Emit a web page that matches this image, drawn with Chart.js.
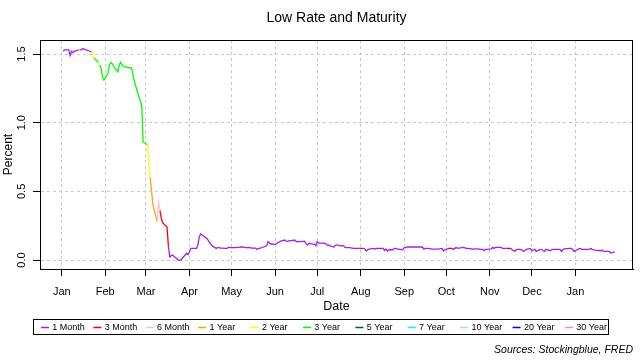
<!DOCTYPE html>
<html>
<head>
<meta charset="utf-8">
<script src="https://cdn.jsdelivr.net/npm/chart.js@4.4.1/dist/chart.umd.min.js"></script>
<style>
  html, body { margin: 0; padding: 0; background: #fff; }
  #wrap { width: 640px; height: 360px; }
</style>
</head>
<body>
<div id="wrap"><canvas id="rateChart" width="640" height="360"></canvas></div>
<script>
// maturities shown in the legend, and their line colours
var maturities = ['1 Month', '3 Month', '6 Month', '1 Year', '2 Year', '3 Year', '5 Year', '7 Year', '10 Year', '20 Year', '30 Year'];
var maturityColors = ['#A020F0', '#FF0000', '#FFC0CB', '#FFA500', '#FFFF00', '#00FF00', '#006400', '#00FFFF', '#ADD8E6', '#0000FF', '#EE82EE'];

// x axis month ticks
var tickDates = ['2020-01-01', '2020-02-01', '2020-03-01', '2020-04-01', '2020-05-01', '2020-06-01', '2020-07-01', '2020-08-01', '2020-09-01', '2020-10-01', '2020-11-01', '2020-12-01', '2021-01-01'];
var tickLabels = ['Jan', 'Feb', 'Mar', 'Apr', 'May', 'Jun', 'Jul', 'Aug', 'Sep', 'Oct', 'Nov', 'Dec', 'Jan'];
var yTicks = [0, 0.5, 1.0, 1.5];

// lowest treasury rate of each day and which maturity it was (index into maturities)
var dates = [
  '2020-01-02','2020-01-03','2020-01-06','2020-01-07','2020-01-08','2020-01-09','2020-01-10','2020-01-13','2020-01-14','2020-01-15',
  '2020-01-16','2020-01-17','2020-01-21','2020-01-22','2020-01-23','2020-01-24','2020-01-27','2020-01-28','2020-01-29','2020-01-30',
  '2020-01-31','2020-02-03','2020-02-04','2020-02-05','2020-02-06','2020-02-07','2020-02-10','2020-02-11','2020-02-12','2020-02-13',
  '2020-02-14','2020-02-18','2020-02-19','2020-02-20','2020-02-21','2020-02-24','2020-02-25','2020-02-26','2020-02-27','2020-02-28',
  '2020-03-02','2020-03-03','2020-03-04','2020-03-05','2020-03-06','2020-03-09','2020-03-10','2020-03-11','2020-03-12','2020-03-13',
  '2020-03-16','2020-03-17','2020-03-18','2020-03-19','2020-03-20','2020-03-23','2020-03-24','2020-03-25','2020-03-26','2020-03-27',
  '2020-03-30','2020-03-31','2020-04-01','2020-04-02','2020-04-03','2020-04-06','2020-04-07','2020-04-08','2020-04-09','2020-04-13',
  '2020-04-14','2020-04-15','2020-04-16','2020-04-17','2020-04-20','2020-04-21','2020-04-22','2020-04-23','2020-04-24','2020-04-27',
  '2020-04-28','2020-04-29','2020-04-30','2020-05-01','2020-05-04','2020-05-05','2020-05-06','2020-05-07','2020-05-08','2020-05-11',
  '2020-05-12','2020-05-13','2020-05-14','2020-05-15','2020-05-18','2020-05-19','2020-05-20','2020-05-21','2020-05-22','2020-05-26',
  '2020-05-27','2020-05-28','2020-05-29','2020-06-01','2020-06-02','2020-06-03','2020-06-04','2020-06-05','2020-06-08','2020-06-09',
  '2020-06-10','2020-06-11','2020-06-12','2020-06-15','2020-06-16','2020-06-17','2020-06-18','2020-06-19','2020-06-22','2020-06-23',
  '2020-06-24','2020-06-25','2020-06-26','2020-06-29','2020-06-30','2020-07-01','2020-07-02','2020-07-06','2020-07-07','2020-07-08',
  '2020-07-09','2020-07-10','2020-07-13','2020-07-14','2020-07-15','2020-07-16','2020-07-17','2020-07-20','2020-07-21','2020-07-22',
  '2020-07-23','2020-07-24','2020-07-27','2020-07-28','2020-07-29','2020-07-30','2020-07-31','2020-08-03','2020-08-04','2020-08-05',
  '2020-08-06','2020-08-07','2020-08-10','2020-08-11','2020-08-12','2020-08-13','2020-08-14','2020-08-17','2020-08-18','2020-08-19',
  '2020-08-20','2020-08-21','2020-08-24','2020-08-25','2020-08-26','2020-08-27','2020-08-28','2020-08-31','2020-09-01','2020-09-02',
  '2020-09-03','2020-09-04','2020-09-08','2020-09-09','2020-09-10','2020-09-11','2020-09-14','2020-09-15','2020-09-16','2020-09-17',
  '2020-09-18','2020-09-21','2020-09-22','2020-09-23','2020-09-24','2020-09-25','2020-09-28','2020-09-29','2020-09-30','2020-10-01',
  '2020-10-02','2020-10-05','2020-10-06','2020-10-07','2020-10-08','2020-10-09','2020-10-13','2020-10-14','2020-10-15','2020-10-16',
  '2020-10-19','2020-10-20','2020-10-21','2020-10-22','2020-10-23','2020-10-26','2020-10-27','2020-10-28','2020-10-29','2020-10-30',
  '2020-11-02','2020-11-03','2020-11-04','2020-11-05','2020-11-06','2020-11-09','2020-11-10','2020-11-12','2020-11-13','2020-11-16',
  '2020-11-17','2020-11-18','2020-11-19','2020-11-20','2020-11-23','2020-11-24','2020-11-25','2020-11-27','2020-11-30','2020-12-01',
  '2020-12-02','2020-12-03','2020-12-04','2020-12-07','2020-12-08','2020-12-09','2020-12-10','2020-12-11','2020-12-14','2020-12-15',
  '2020-12-16','2020-12-17','2020-12-18','2020-12-21','2020-12-22','2020-12-23','2020-12-24','2020-12-28','2020-12-29','2020-12-30',
  '2020-12-31','2021-01-04','2021-01-05','2021-01-06','2021-01-07','2021-01-08','2021-01-11','2021-01-12','2021-01-13','2021-01-14',
  '2021-01-15','2021-01-19','2021-01-20','2021-01-21','2021-01-22','2021-01-25','2021-01-26','2021-01-27','2021-01-28','2021-01-29'
];
var lowRate = [
  1.52, 1.53, 1.53, 1.49, 1.52, 1.51, 1.52, 1.53, 1.53, 1.53,
  1.54, 1.535, 1.52, 1.515, 1.50, 1.47, 1.44, 1.42, 1.40, 1.33,
  1.31, 1.36, 1.42, 1.44, 1.43, 1.41, 1.37, 1.42, 1.44, 1.42,
  1.41, 1.40, 1.40, 1.39, 1.33, 1.22, 1.19, 1.16, 1.12, 0.86,
  0.84, 0.70, 0.60, 0.50, 0.40, 0.28, 0.42, 0.36, 0.30, 0.27,
  0.24, 0.10, 0.02, 0.035, 0.035, 0.01, 0.0, 0.0, 0.0, 0.015,
  0.05, 0.04, 0.06, 0.085, 0.085, 0.085, 0.11, 0.17, 0.19, 0.16,
  0.15, 0.13, 0.12, 0.105, 0.085, 0.09, 0.09, 0.087, 0.087, 0.085,
  0.085, 0.095, 0.09, 0.09, 0.09, 0.092, 0.092, 0.095, 0.097, 0.09,
  0.09, 0.092, 0.09, 0.088, 0.087, 0.078, 0.085, 0.085, 0.088, 0.104,
  0.134, 0.124, 0.117, 0.114, 0.117, 0.129, 0.13, 0.138, 0.146, 0.136,
  0.138, 0.141, 0.14, 0.146, 0.134, 0.136, 0.134, 0.134, 0.138, 0.12,
  0.109, 0.12, 0.12, 0.114, 0.104, 0.134, 0.124, 0.124, 0.12, 0.109,
  0.11, 0.104, 0.095, 0.109, 0.109, 0.109, 0.104, 0.104, 0.09, 0.09,
  0.09, 0.09, 0.085, 0.085, 0.085, 0.085, 0.085, 0.085, 0.08, 0.066,
  0.075, 0.08, 0.085, 0.08, 0.085, 0.085, 0.085, 0.085, 0.07, 0.08,
  0.066, 0.075, 0.075, 0.085, 0.085, 0.08, 0.08, 0.075, 0.09, 0.09,
  0.095, 0.095, 0.095, 0.095, 0.095, 0.095, 0.095, 0.08, 0.085, 0.085,
  0.085, 0.08, 0.08, 0.08, 0.08, 0.08, 0.085, 0.066, 0.075, 0.078,
  0.085, 0.085, 0.078, 0.085, 0.092, 0.085, 0.092, 0.09, 0.085, 0.085,
  0.082, 0.078, 0.082, 0.082, 0.082, 0.078, 0.078, 0.068, 0.078, 0.078,
  0.082, 0.092, 0.085, 0.092, 0.092, 0.092, 0.085, 0.085, 0.085, 0.085,
  0.073, 0.066, 0.066, 0.078, 0.078, 0.073, 0.063, 0.078, 0.085, 0.068,
  0.075, 0.078, 0.063, 0.078, 0.078, 0.068, 0.063, 0.078, 0.068, 0.075,
  0.078, 0.078, 0.078, 0.078, 0.063, 0.075, 0.082, 0.085, 0.085, 0.078,
  0.063, 0.085, 0.082, 0.078, 0.078, 0.078, 0.078, 0.085, 0.078, 0.075,
  0.073, 0.068, 0.073, 0.063, 0.063, 0.063, 0.053, 0.053, 0.058, 0.058
];
var lowMaturity = [
  0, 0, 0, 0, 0, 0, 0, 3, 0, 0,
  0, 0, 0, 4, 4, 5, 4, 5, 5, 5,
  5, 5, 5, 5, 5, 5, 5, 5, 5, 5,
  5, 5, 5, 5, 5, 5, 5, 5, 5, 5,
  4, 4, 3, 3, 3, 2, 2, 1, 1, 1,
  1, 0, 1, 0, 0, 0, 0, 0, 0, 0,
  0, 0, 0, 0, 0, 0, 0, 0, 0, 0,
  0, 0, 0, 0, 0, 0, 0, 0, 0, 0,
  1, 0, 0, 0, 0, 0, 0, 0, 0, 0,
  0, 0, 0, 0, 0, 0, 0, 0, 0, 0,
  0, 0, 0, 0, 0, 0, 0, 0, 0, 0,
  0, 0, 0, 0, 0, 0, 0, 0, 0, 0,
  0, 0, 0, 0, 0, 0, 0, 0, 0, 0,
  0, 0, 0, 0, 0, 0, 1, 0, 0, 0,
  0, 0, 0, 0, 0, 0, 1, 0, 0, 0,
  0, 0, 0, 0, 0, 0, 0, 0, 0, 0,
  0, 0, 0, 0, 0, 0, 0, 0, 0, 0,
  0, 0, 0, 0, 0, 0, 0, 0, 0, 0,
  0, 0, 0, 0, 0, 0, 0, 0, 0, 0,
  1, 0, 0, 0, 0, 0, 0, 0, 0, 0,
  0, 0, 0, 0, 0, 0, 0, 0, 0, 0,
  0, 0, 0, 0, 0, 0, 0, 0, 1, 0,
  0, 1, 1, 0, 0, 0, 0, 0, 0, 0,
  0, 0, 0, 1, 0, 0, 0, 0, 0, 0,
  0, 0, 0, 0, 0, 0, 0, 0, 0, 0,
  0, 0, 0, 0, 0, 0, 1, 0, 0, 0,
  0, 0, 0, 0, 0, 0, 0, 0, 0, 0
];

var FONT = '"Liberation Sans", Arial, sans-serif';
var DAY = 86400000;
var origin = Date.UTC(2020, 0, 1);
function dayNum(s) {
    var p = s.split('-');
    return (Date.UTC(+p[0], +p[1] - 1, +p[2]) - origin) / DAY;
}

var points = dates.map(function (d, i) { return { x: dayNum(d), y: lowRate[i] }; });
var tickDays = tickDates.map(dayNum);

// plot box, legend box and source note, R style
var extras = {
    id: 'extras',
    afterDraw: function (chart) {
        var c = chart.ctx;
        var a = chart.chartArea;
        c.save();
        c.strokeStyle = '#000';
        c.lineWidth = 1;
        c.strokeRect(a.left + 0.5, a.top + 0.5, a.right - a.left - 1, a.bottom - a.top);

        c.strokeRect(33.5, 319.5, 575, 15);
        c.font = '9px ' + FONT;
        c.textBaseline = 'middle';
        c.textAlign = 'left';
        for (var i = 0; i < maturities.length; i++) {
            var x0 = 41 + i * 52.4;
            c.strokeStyle = maturityColors[i];
            c.lineWidth = 1.5;
            c.beginPath();
            c.moveTo(x0, 327.5);
            c.lineTo(x0 + 8, 327.5);
            c.stroke();
            c.fillStyle = '#000';
            c.fillText(maturities[i], x0 + 11.3, 328);
        }

        c.font = 'italic 10.5px ' + FONT;
        c.textAlign = 'right';
        c.fillText('Sources: Stockingblue, FRED', 633, 350);
        c.restore();
    }
};

var ctx = document.getElementById('rateChart').getContext('2d');
new Chart(ctx, {
    type: 'line',
    data: {
        datasets: [{
            data: points,
            borderWidth: 1.3,
            pointRadius: 0,
            fill: false,
            tension: 0,
            borderColor: maturityColors[0],
            segment: {
                borderColor: function (s) { return maturityColors[lowMaturity[s.p0DataIndex]]; }
            }
        }]
    },
    options: {
        responsive: false,
        animation: false,
        layout: { padding: { left: 0, right: 7, top: 0, bottom: 46 } },
        plugins: {
            legend: { display: false },
            tooltip: { enabled: false },
            title: {
                display: true,
                text: 'Low Rate and Maturity',
                fullSize: false,
                color: '#000',
                font: { family: FONT, size: 14, weight: 'normal', lineHeight: 1.2 },
                padding: { top: 9.5, bottom: 13.7 }
            }
        },
        scales: {
            x: {
                type: 'linear',
                min: -15.5,
                max: 407,
                afterBuildTicks: function (s) { s.ticks = tickDays.map(function (v) { return { value: v }; }); },
                afterFit: function (s) { s.height = 45; },
                ticks: {
                    autoSkip: false,
                    maxRotation: 0,
                    padding: 9,
                    color: '#000',
                    font: { family: FONT, size: 11 },
                    callback: function (v, i) { return tickLabels[i]; }
                },
                grid: { color: '#c8c8c8', lineWidth: 1, tickLength: 7, tickColor: '#000' },
                border: { display: true, color: '#000', dash: [3, 3] },
                title: { display: true, text: 'Date', color: '#000', font: { family: FONT, size: 12.5 }, padding: { top: 0, bottom: 0 } }
            },
            y: {
                min: -0.065,
                max: 1.602,
                afterBuildTicks: function (s) { s.ticks = yTicks.map(function (v) { return { value: v }; }); },
                afterFit: function (s) { s.width = 40; },
                ticks: {
                    minRotation: 90,
                    crossAlign: 'center',
                    padding: 3,
                    color: '#000',
                    font: { family: FONT, size: 11 },
                    callback: function (v) { return v.toFixed(1); }
                },
                grid: { color: '#c8c8c8', lineWidth: 1, tickLength: 7, tickColor: '#000' },
                border: { display: true, color: '#000', dash: [3, 3] },
                title: { display: true, text: 'Percent', color: '#000', font: { family: FONT, size: 12 }, padding: { top: 1, bottom: 0 } }
            }
        }
    },
    plugins: [extras]
});
</script>
</body>
</html>
